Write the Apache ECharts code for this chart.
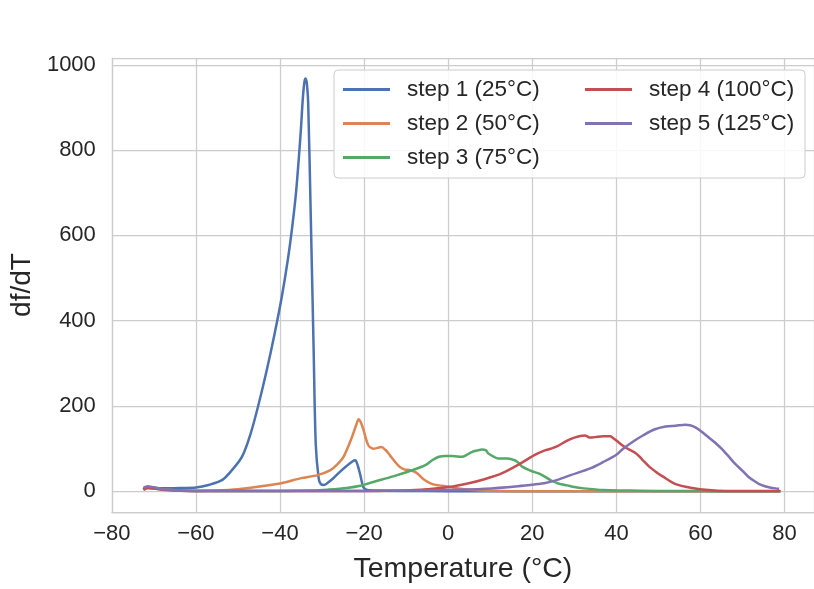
<!DOCTYPE html>
<html lang="en">
<head>
    <meta charset="UTF-8">
    <title>df/dT per step</title>
    <script type="text/javascript" src="https://cdn.jsdelivr.net/npm/echarts@6/dist/echarts.min.js"></script>
    <style>
        html, body { margin: 0; padding: 0; background: #ffffff; }
        #main { width: 814px; height: 589px; }
    </style>
</head>
<body>
<div id="main"></div>
<script type="text/javascript">
    // series names
    var names = ['step 1 (25°C)', 'step 2 (50°C)', 'step 3 (75°C)', 'step 4 (100°C)', 'step 5 (125°C)'];
    var colors = ['#4c72b0', '#dd8452', '#55a868', '#c44e52', '#8172b3'];

    // axis limits
    var xMin = -80, xMax = 87, xStep = 20;
    var yMin = -48.4, yMax = 1016;

    // step 1
    var step1T = [-72.5, -71.5, -68, -63, -60, -57, -53.7, -51.4, -49, -47, -45.2, -43.2, -41.3, -39.6, -38.1, -37.1, -36.2, -35.5, -35, -34.6, -34.2, -33.9, -33.6, -33.3, -32.7, -32.0, -31.5, -30.8, -30.3, -29.5, -28.4, -27.2, -25.5, -24.1, -22.8, -22.1, -21.5, -20.9, -20.2, -19.5, -18, -10, 0, 20, 40, 60, 79];
    var step1Y = [5, 10, 7, 8, 9, 15, 27, 50, 82, 135, 200, 282, 369, 455, 546, 620, 700, 785, 854, 918, 960, 968, 955, 910, 650, 330, 110, 30, 17, 15, 22, 32, 48, 60, 70, 73, 60, 38, 10, 4, 2, 1, 0.5, 0, 0, 0, 0];

    // step 2
    var step2T = [-72.5, -71.5, -68, -64, -60, -55, -50, -44.4, -39.7, -35, -31.1, -28, -26.5, -24.9, -22.9, -21.8, -21.3, -20.8, -20.2, -19, -17.8, -16.8, -15.9, -14.9, -13.9, -11.6, -10.3, -9.2, -7.6, -5.7, -3.8, -2.2, 0.2, 3, 5, 8, 12, 20, 40, 60, 79];
    var step2Y = [4, 9, 5, 2, 1, 2, 5, 12, 19, 31, 38, 50, 62, 81, 127, 158, 169, 162, 146, 108, 100, 102, 104, 97, 85, 58, 51, 50, 44, 27, 17, 14, 11, 6, 4, 2, 1, 0, 0, 0, 0];

    // step 3
    var step3T = [-72.5, -71.5, -68, -60, -50, -40, -32, -28.7, -24.1, -20.9, -17.8, -13.1, -8.4, -5.3, -3.8, -2.2, -0.6, 1, 3.3, 4.5, 5.6, 7, 8, 9, 9.5, 10.7, 11.9, 13, 14.2, 15.8, 16.6, 17.6, 19.7, 22, 24.4, 26, 28.3, 30, 32.2, 36.9, 42, 50, 60, 70, 79];
    var step3Y = [4, 8, 4, 1, 1, 1, 2, 4, 8, 13, 22, 35, 50, 62, 73, 81, 83, 83, 81, 86, 92, 96, 98, 96, 89, 82, 77, 77, 77, 73, 68, 58, 48, 40, 26, 19, 14, 10, 7, 3, 2, 1, 1, 0, 0];

    // step 4
    var step4T = [-72.5, -71.5, -68, -60, -40, -20, -10, -5, 0.2, 4.9, 8.8, 12.7, 16.6, 20.5, 23, 24.4, 26, 28.3, 30, 31.4, 32.5, 33.8, 35.5, 36.9, 38.5, 39.2, 40, 42, 44.7, 46.2, 47.8, 49.5, 51, 54.1, 58, 61.9, 66, 70, 79];
    var step4Y = [4, 8, 4, 1, 1, 1, 2, 5, 10, 19, 29, 42, 62, 85, 96, 100, 106, 119, 126, 130, 131, 126, 128, 129, 129, 125, 119, 104, 89, 74, 58, 45, 35, 17, 8, 3, 1, 1, 1];

    // step 5
    var step5T = [-72.5, -71.5, -68, -60, -40, -20, -10, 0, 8.8, 16.6, 21.3, 22.8, 26, 29.1, 33.8, 36.9, 40, 41.6, 44, 46.3, 49, 51.7, 54.1, 56.4, 57.5, 58.8, 60.3, 61.9, 63.5, 65, 66.6, 68.2, 70, 71.3, 73, 74.4, 76.5, 78.7];
    var step5Y = [8, 12, 5, 1, 1, 1, 2, 3, 6, 12, 17, 19, 27, 38, 54, 69, 86, 100, 117, 131, 145, 152, 154, 156, 155, 150, 140, 127, 114, 100, 83, 65, 48, 35, 23, 15, 9, 6];

    var allT = [step1T, step2T, step3T, step4T, step5T];
    var allY = [step1Y, step2Y, step3Y, step4Y, step5Y];

    function pairs(t, y) {
        var out = [];
        for (var i = 0; i < t.length; i++) {
            out.push([t[i], y[i]]);
        }
        return out;
    }

    var chart = echarts.init(document.getElementById('main'));
    var font = "'Liberation Sans', Arial, sans-serif";
    var textColor = '#262626';
    var gridColor = '#cccccc';

    var series = [];
    for (var i = 0; i < names.length; i++) {
        series.push({
            name: names[i],
            type: 'line',
            data: pairs(allT[i], allY[i]),
            showSymbol: false,
            smooth: 0.3,
            color: colors[i],
            lineStyle: { width: 2.5, color: colors[i] },
            z: 2
        });
    }

    // legend in two columns, like the matplotlib one
    function legendBox(items, left) {
        return {
            data: items,
            orient: 'vertical',
            left: left,
            top: 78,
            padding: 0,
            itemWidth: 47,
            itemHeight: 3,
            itemGap: 11,
            icon: 'rect',
            selectedMode: false,
            z: 5,
            formatter: function (name) { return '{a|' + name + '}'; },
            textStyle: {
                fontFamily: font,
                fontSize: 22.5,
                color: textColor,
                rich: { a: { padding: [0, 0, 0, 12], fontSize: 22.5, fontFamily: font, color: textColor } }
            }
        };
    }

    var option = {
        animation: false,
        backgroundColor: '#ffffff',
        textStyle: { fontFamily: font },
        grid: { left: 108, top: 58, width: 713, height: 460, containLabel: false },
        legend: [
            legendBox([names[0], names[1], names[2]], 343),
            legendBox([names[3], names[4]], 585)
        ],
        graphic: [{
            type: 'rect',
            z: 3,
            shape: { x: 334, y: 70, width: 471, height: 108, r: 4 },
            style: { fill: 'rgba(255,255,255,0.85)', stroke: gridColor, lineWidth: 1 }
        }],
        xAxis: {
            type: 'value',
            min: xMin,
            max: xMax,
            interval: xStep,
            name: 'Temperature (°C)',
            nameLocation: 'middle',
            nameGap: 43,
            nameTextStyle: { fontSize: 28.5, color: textColor, fontFamily: font },
            axisLine: { show: true, onZero: false, lineStyle: { color: gridColor, width: 1.25 } },
            axisTick: { show: false },
            splitLine: { show: true, lineStyle: { color: gridColor, width: 1.25 } },
            axisLabel: {
                fontSize: 22,
                color: textColor,
                margin: 11,
                showMaxLabel: false,
                formatter: function (v) { return String(v).replace('-', '\u2212'); }
            }
        },
        yAxis: {
            type: 'value',
            min: yMin,
            max: yMax,
            splitNumber: 5,
            name: 'df/dT',
            nameLocation: 'middle',
            nameGap: 71,
            nameTextStyle: { fontSize: 28, color: textColor, fontFamily: font },
            axisLine: { show: true, onZero: false, lineStyle: { color: gridColor, width: 1.25 } },
            axisTick: { show: false },
            splitLine: { show: true, lineStyle: { color: gridColor, width: 1.25 } },
            axisLabel: {
                fontSize: 22,
                color: textColor,
                margin: 16,
                showMinLabel: false,
                showMaxLabel: false,
                formatter: function (v) { return String(v); }
            }
        },
        series: series
    };
    chart.setOption(option);
</script>
</body>
</html>
